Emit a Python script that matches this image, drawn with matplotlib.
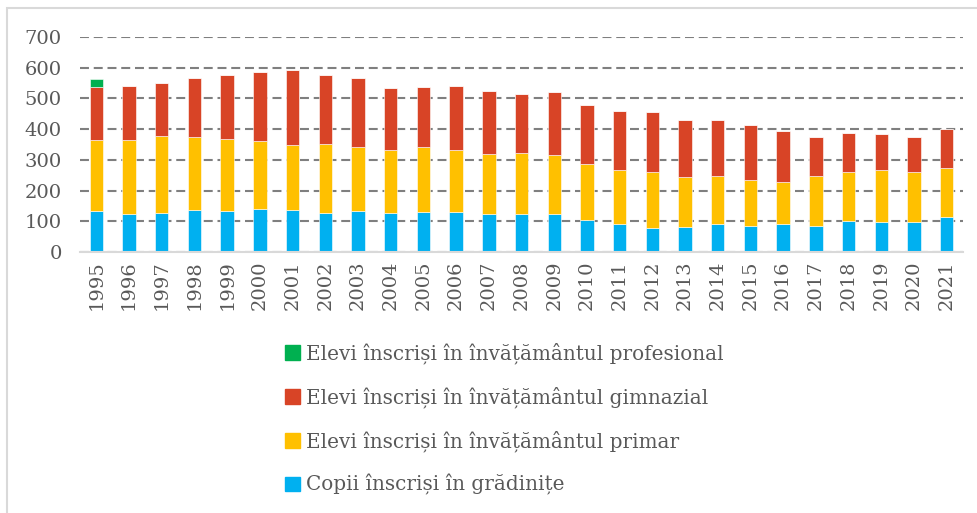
import matplotlib.pyplot as plt
import matplotlib.patches as mpatches
import numpy as np

plt.rcParams['font.family'] = ['DejaVu Serif']

years = [str(y) for y in range(1995, 2022)]

# values (thousands)
gradinite = [133, 124, 128, 137, 132, 140, 136, 127, 133, 128, 130, 130, 124,
             125, 125, 104, 91, 78, 80, 91, 85, 90, 85, 100, 99, 99, 113]
primar = [230, 239, 249, 236, 235, 220, 211, 225, 208, 203, 212, 201, 194,
          197, 191, 181, 177, 184, 163, 157, 148, 139, 162, 162, 168, 161, 160]
gimnazial = [173, 176, 172, 195, 208, 225, 244, 225, 226, 203, 194, 210, 205,
             192, 206, 195, 190, 194, 188, 181, 179, 166, 128, 124, 116, 113, 126]
profesional = [26] + [0] * 26

labels = ['Copii înscriși în grădinițe',
          'Elevi înscriși în învățământul primar',
          'Elevi înscriși în învățământul gimnazial',
          'Elevi înscriși în învățământul profesional']
colors = ['#00B0F0', '#FFC000', '#D84426', '#00B050']

fig = plt.figure(figsize=(9.77, 5.13), dpi=100)
ax = fig.add_axes([0.0819, 0.5088, 0.9038, 0.4191])

x = np.arange(len(years))
bottom = np.zeros(len(years))
for vals, lab, col in zip([gradinite, primar, gimnazial, profesional], labels, colors):
    ax.bar(x, vals, 0.41, bottom=bottom, color=col, label=lab,
           edgecolor='white', linewidth=0.4)
    bottom += np.array(vals)

ax.set_xlim(-0.5, len(years) - 0.5)
ax.set_ylim(0, 700)
ax.set_yticks(range(0, 701, 100))
ax.set_xticks(x)
ax.set_xticklabels(years, rotation=90)
ax.tick_params(length=0, labelsize=14, colors='#595959', pad=6)
ax.tick_params(axis='y', pad=13)
ax.yaxis.grid(True, color='#7F7F7F', linestyle=(0, (4.3, 2.3)), linewidth=1.5)
ax.set_axisbelow(True)
for s in ['top', 'right', 'left']:
    ax.spines[s].set_visible(False)
ax.spines['bottom'].set_color('#D9D9D9')
ax.spines['bottom'].set_linewidth(1.5)

# legend in reverse order, as in the original
handles = [mpatches.Patch(color=c) for c in colors][::-1]
fig.legend(handles, labels[::-1], loc='upper left',
           bbox_to_anchor=(0.273, 0.368), frameon=False,
           fontsize=14.45, handlelength=0.75, handleheight=0.75,
           handletextpad=0.3, labelspacing=1.12, labelcolor='#595959')

# outer chart border
fig.patches.append(mpatches.Rectangle((0.007, -0.1), 1.1, 1.084, transform=fig.transFigure,
                                      fill=False, edgecolor='#D9D9D9', linewidth=1.5))

fig.savefig('out.png', dpi=100)
